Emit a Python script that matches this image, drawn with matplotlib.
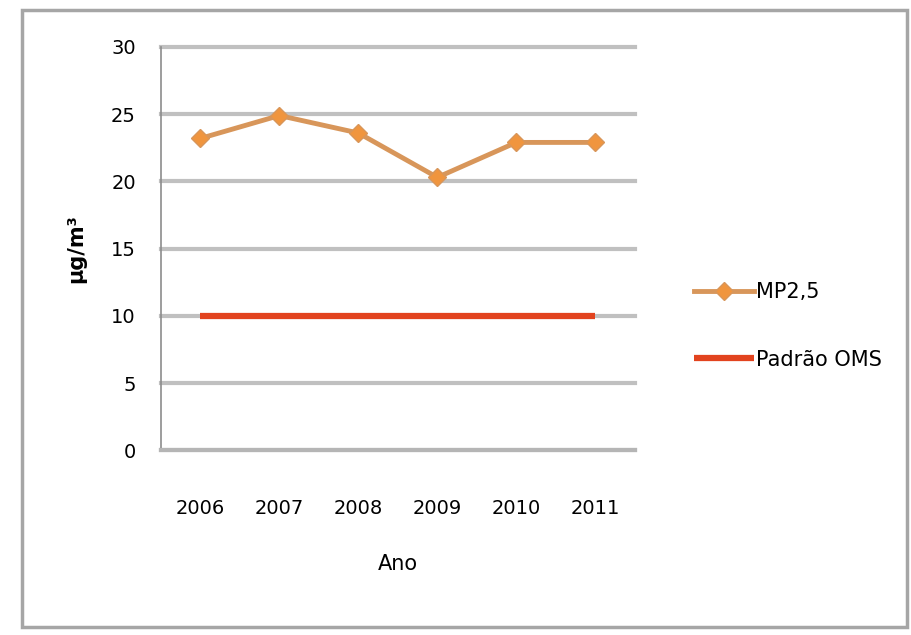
import matplotlib.pyplot as plt
from matplotlib.patches import Rectangle

# data
years = ["2006", "2007", "2008", "2009", "2010", "2011"]
mp25 = [23.2, 24.9, 23.6, 20.3, 22.9, 22.9]
padrao_oms = [10, 10, 10, 10, 10, 10]

plt.rcParams["font.family"] = ["Liberation Sans Narrow", "DejaVu Sans"]

fig = plt.figure(figsize=(9.12, 6.35), dpi=100)
fig.patch.set_facecolor("white")

# outer chart border
fig.add_artist(Rectangle((0.024, 0.012), 0.97, 0.972, transform=fig.transFigure,
                         fill=False, edgecolor="#A6A6A6", linewidth=2.5))

ax = fig.add_axes([0.1765, 0.291, 0.5195, 0.635])
x = list(range(len(years)))

ax.plot(x, padrao_oms, color="#E2431E", linewidth=4.5, solid_capstyle="butt",
        label="Padrão OMS", zorder=3)
ax.plot(x, mp25, color="#D8965A", linewidth=3.5, marker="D", markersize=9,
        markerfacecolor="#F0953E", markeredgecolor="#D8965A",
        label="MP2,5", zorder=4)

ax.set_xlim(-0.5, len(years) - 0.5)
ax.set_ylim(0, 30)
ax.set_yticks(range(0, 31, 5))
ax.set_xticks(x)
ax.set_xticklabels(years)
ax.yaxis.grid(True, color="#C0C0C0", linewidth=3)
for gl in ax.yaxis.get_gridlines():
    gl.set_clip_on(False)
ax.set_axisbelow(True)

for s in ["top", "right"]:
    ax.spines[s].set_visible(False)
ax.spines["left"].set_color("#8C8C8C")
ax.spines["left"].set_linewidth(1.2)
ax.spines["bottom"].set_color("#B5B5B5")
ax.spines["bottom"].set_linewidth(3)

ax.tick_params(axis="both", length=0, labelsize=14, colors="black")
ax.tick_params(axis="y", pad=18)
ax.tick_params(axis="x", pad=35)

ax.set_xlabel("Ano", fontsize=15, labelpad=26)
ax.set_ylabel("µg/m³", fontsize=15, fontweight="bold", labelpad=18)

handles, labels = ax.get_legend_handles_labels()
leg = fig.legend(handles[::-1], labels[::-1], loc="center left",
                 bbox_to_anchor=(0.74, 0.487), frameon=False, fontsize=15,
                 handlelength=2.9, handletextpad=0.1, labelspacing=2.3)

fig.savefig("out.png", dpi=100, facecolor="white")
